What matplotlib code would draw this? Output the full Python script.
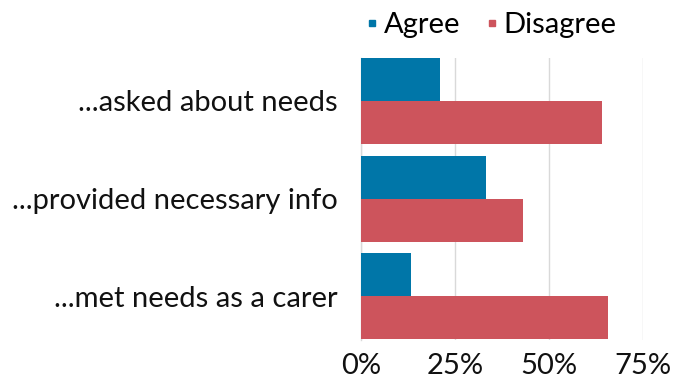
import matplotlib
matplotlib.use("Agg")
import matplotlib.pyplot as plt
import numpy as np
from matplotlib.lines import Line2D

categories = ["...asked about needs", "...provided necessary info", "...met needs as a carer"]
agree = [21.0, 33.2, 13.4]
disagree = [64.1, 43.0, 65.6]
xticks = [0, 25, 50, 75]
xticklabels = ["0%", "25%", "50%", "75%"]

blue = "#0076a8"
red = "#cd545c"
grid = "#d9d9d9"

plt.rcParams['font.family'] = ['Lato', 'DejaVu Sans']

fig = plt.figure(figsize=(6.75, 3.85), dpi=100)
W, H = 675, 385
ax = fig.add_axes([361 / W, 1 - 339.5 / H, (643 - 361) / W, (339.5 - 57.7) / H])

y = np.arange(len(categories))
h = 0.439
ax.barh(y - h / 2, agree, height=h, color=blue, zorder=3, label="Agree")
ax.barh(y + h / 2, disagree, height=h, color=red, zorder=3, label="Disagree")

ax.set_ylim(2 + 0.44, -0.44)
ax.set_xlim(0, 75)
ax.set_yticks(y)
ax.set_yticklabels(categories, fontsize=21, color="#111111")
ax.set_xticks(xticks)
ax.set_xticklabels(xticklabels, fontsize=21, color="#111111")
ax.tick_params(axis='both', length=0)
ax.tick_params(axis='y', pad=17)
ax.tick_params(axis='x', pad=10)
ax.xaxis.grid(True, color=grid, linewidth=1, zorder=0)
for s in ["top", "right", "bottom"]:
    ax.spines[s].set_visible(False)
ax.spines["left"].set_color(grid)
ax.spines["left"].set_linewidth(1)

handles = [Line2D([], [], marker='s', linestyle='none', color=blue, markersize=5),
           Line2D([], [], marker='s', linestyle='none', color=red, markersize=5)]
fig.legend(handles, ["Agree", "Disagree"], loc="center", bbox_to_anchor=(490 / W, 1 - 25 / H),
           ncol=2, frameon=False, fontsize=21, handletextpad=0.1, columnspacing=0.8,
           handlelength=0.6)

fig.savefig("out.png", dpi=100)
